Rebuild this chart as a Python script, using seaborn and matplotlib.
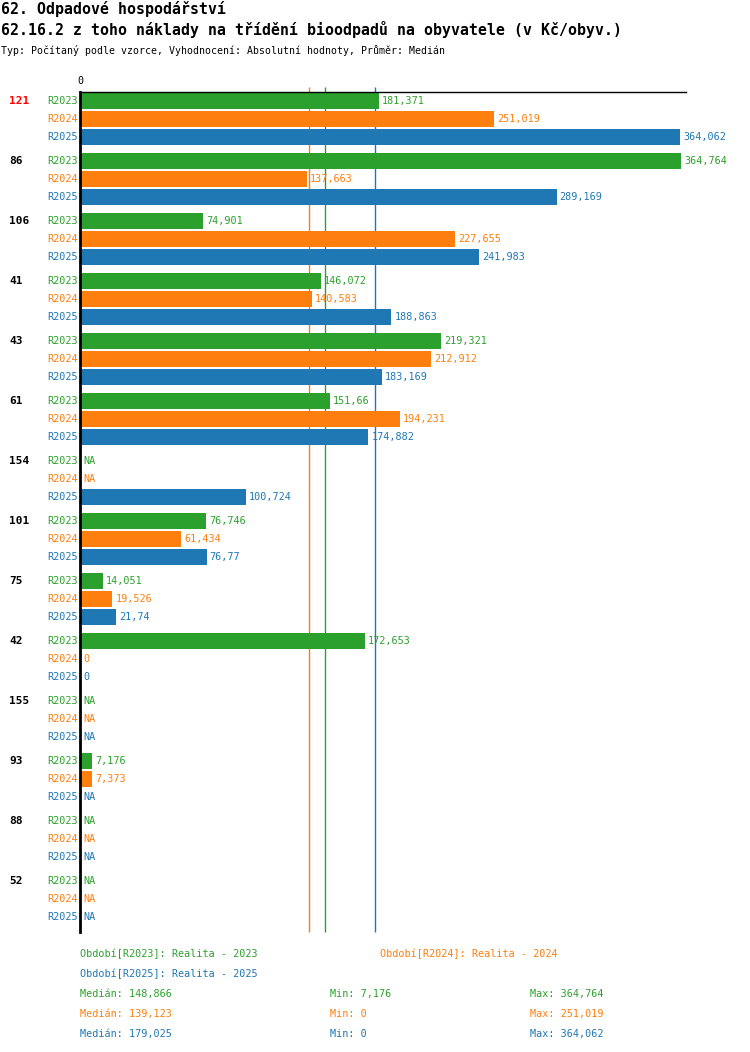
import numpy as np
import pandas as pd
import seaborn as sns
import matplotlib.pyplot as plt

# --- data (Kč/obyv.), NaN = NA ---
skupiny = ["121", "86", "106", "41", "43", "61", "154", "101", "75", "42", "155", "93", "88", "52"]
obdobi = ["R2023", "R2024", "R2025"]
r2023 = [181.371, 364.764, 74.901, 146.072, 219.321, 151.66, np.nan, 76.746, 14.051, 172.653, np.nan, 7.176, np.nan, np.nan]
r2024 = [251.019, 137.663, 227.655, 140.583, 212.912, 194.231, np.nan, 61.434, 19.526, 0, np.nan, 7.373, np.nan, np.nan]
r2025 = [364.062, 289.169, 241.983, 188.863, 183.169, 174.882, 100.724, 76.77, 21.74, 0, np.nan, np.nan, np.nan, np.nan]
popisy = ["Realita - 2023", "Realita - 2024", "Realita - 2025"]
barvy = ["#2ca02c", "#ff7f0e", "#1f77b4"]

W, H = 750, 1052


def fmt(v):
    if np.isnan(v):
        return "NA"
    v = int(v * 1000 + 1e-6) / 1000  # truncate to 3 decimals
    s = f"{v:.3f}".rstrip("0").rstrip(".")
    return s.replace(".", ",")


def fx(px):
    return px / W


def fy(py):
    return 1 - py / H


# rows: 60 px per group, 18 px per bar (pixel-like y units)
rows = []
for g, sk in enumerate(skupiny):
    for k, (per, vals) in enumerate(zip(obdobi, [r2023, r2024, r2025])):
        rows.append({"skupina": sk, "obdobi": per, "pos": 101 + 60 * g + 18 * k, "hodnota": vals[g], "k": k})
df = pd.DataFrame(rows)

sns.set_style("white")
plt.rcParams["font.family"] = ["DejaVu Sans Mono"]
plt.rcParams["text.color"] = "black"

fig = plt.figure(figsize=(W / 100, H / 100), dpi=100)
ax = fig.add_axes([fx(80), fy(932), fx(686 - 80), (932 - 92) / H])

scale = 1.648  # px per unit
xmax = (686 - 80) / scale

sns.barplot(data=df.dropna(subset=["hodnota"]), x="hodnota", y="pos", hue="obdobi",
            palette=dict(zip(obdobi, barvy)), orient="h", native_scale=True,
            dodge=False, width=16 / 18, legend=False, saturation=1,
            linewidth=0, edgecolor="none", zorder=2, ax=ax)

ax.set_xlim(0, xmax)
ax.set_ylim(932, 92)
ax.set_xticks([])
ax.set_yticks([])
ax.set_xlabel("")
ax.set_ylabel("")
for s in ["right", "bottom"]:
    ax.spines[s].set_visible(False)
ax.spines["top"].set_linewidth(1)
ax.spines["top"].set_color("black")
ax.spines["left"].set_linewidth(2)
ax.spines["left"].set_color("black")
ax.spines["left"].set_zorder(5)

# median lines (behind the bars)
medians = [np.nanmedian(v) for v in (r2023, r2024, r2025)]
for m, c in zip(medians, barvy):
    ax.vlines(m, 87, 932, color=c, lw=1, clip_on=False, zorder=1)

# value labels + row labels
for _, r in df.iterrows():
    v = r["hodnota"]
    c = barvy[r["k"]]
    x = 0 if np.isnan(v) else v
    ax.text(x + 1.9, r["pos"], fmt(v), color=c, fontsize=7.3, va="center", ha="left", zorder=4)
    fig.text(fx(78), fy(r["pos"]), r["obdobi"], color=c, fontsize=7.3, va="center", ha="right")

for g, sk in enumerate(skupiny):
    fig.text(fx(9), fy(101 + 60 * g), sk, color="red" if g == 0 else "black",
             fontsize=8, fontweight="bold", va="center", ha="left")

fig.text(fx(80), fy(81), "0", fontsize=7.3, ha="center", va="center")

# titles
fig.text(fx(1), fy(9), "62. Odpadové hospodářství", fontsize=10.7, fontweight="bold", va="center")
fig.text(fx(1), fy(30), "62.16.2 z toho náklady na třídění bioodpadů na obyvatele (v Kč/obyv.)",
         fontsize=10.7, fontweight="bold", va="center")
fig.text(fx(1), fy(51), "Typ: Počítaný podle vzorce, Vyhodnocení: Absolutní hodnoty, Průměr: Medián",
         fontsize=7.1, va="center")

# legend / stats
leg_pos = [(80, 954), (380, 954), (80, 974)]
for (px, py), per, pop, c in zip(leg_pos, obdobi, popisy, barvy):
    fig.text(fx(px), fy(py), f"Období[{per}]: {pop}", color=c, fontsize=7.3, va="center")

for i, (vals, c) in enumerate(zip((r2023, r2024, r2025), barvy)):
    py = 994 + 20 * i
    fig.text(fx(80), fy(py), f"Medián: {fmt(medians[i])}", color=c, fontsize=7.3, va="center")
    fig.text(fx(330), fy(py), f"Min: {fmt(np.nanmin(vals))}", color=c, fontsize=7.3, va="center")
    fig.text(fx(530), fy(py), f"Max: {fmt(np.nanmax(vals))}", color=c, fontsize=7.3, va="center")

fig.savefig("out.png", dpi=100, facecolor="white")
